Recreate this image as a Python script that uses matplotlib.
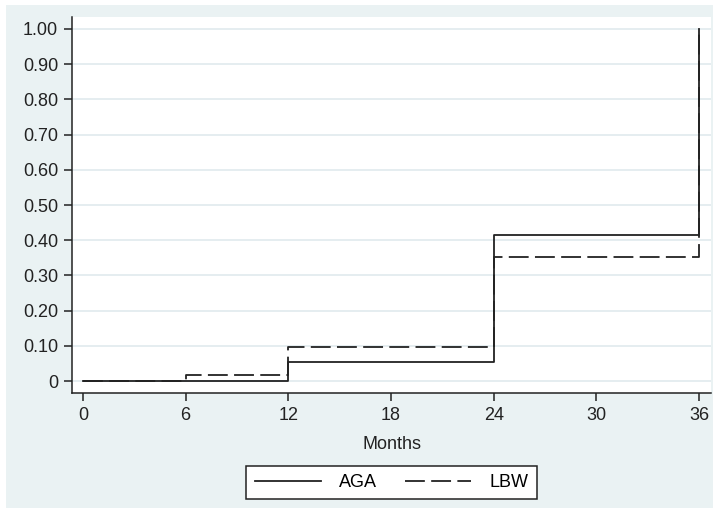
import matplotlib
matplotlib.use("Agg")
from matplotlib import pyplot as plt
from matplotlib.patches import Rectangle

plt.rcParams['font.family'] = ['Liberation Sans', 'DejaVu Sans']

# step data: value holds from each time until the next one
aga_months = [0, 12, 24, 36]
aga_values = [0.0, 0.053, 0.415, 1.0]
lbw_months = [0, 6, 12, 24, 36]
lbw_values = [0.0, 0.017, 0.098, 0.352, 1.0]

x_ticks = [0, 6, 12, 18, 24, 30, 36]
y_ticks = [0, 0.1, 0.2, 0.3, 0.4, 0.5, 0.6, 0.7, 0.8, 0.9, 1.0]
y_labels = ['0'] + ['%.2f' % v for v in y_ticks[1:]]

bg = '#eaf2f3'
grid_col = '#e3ecef'
ink = '#222222'

fig = plt.figure(figsize=(7.13, 5.08), dpi=100)
fig.patches.append(Rectangle((6 / 713, 0), 1, (508 - 5) / 508, transform=fig.transFigure,
                             facecolor=bg, edgecolor='none', zorder=-10))
ax = fig.add_axes([72 / 713, (508 - 393) / 508, (711 - 72) / 713, (393 - 17) / 508])
ax.set_facecolor('white')

ax.step(aga_months, aga_values, where='post', color=ink, lw=1.3, label='AGA')
ax.step(lbw_months, lbw_values, where='post', color=ink, lw=1.3,
        dashes=(11, 3.5), label='LBW')

ax.set_xlim(-0.64, 36.7)
ax.set_ylim(-0.034, 1.034)
ax.set_xticks(x_ticks)
ax.set_yticks(y_ticks)
ax.set_yticklabels(y_labels)
ax.yaxis.grid(True, color=grid_col, lw=1.3)
ax.set_axisbelow(True)

for side in ['top', 'right']:
    ax.spines[side].set_visible(False)
for side in ['left', 'bottom']:
    ax.spines[side].set_color(ink)
    ax.spines[side].set_linewidth(1.1)
ax.tick_params(direction='out', length=6, width=1.1, color=ink,
               labelsize=13, labelcolor=ink, pad=4)

ax.set_xlabel('Months', fontsize=13, color=ink, labelpad=9)

leg = ax.legend(loc='center', bbox_to_anchor=(0.5, -0.238), ncol=2, fontsize=13,
                frameon=True, fancybox=False, handlelength=3.7, columnspacing=1.5,
                handletextpad=1.0, borderpad=0.45)
leg.get_frame().set_edgecolor(ink)
leg.get_frame().set_linewidth(1.1)
leg.get_frame().set_facecolor('white')
leg.get_frame().set_alpha(1)

fig.savefig('out.png', dpi=100, facecolor='white')
